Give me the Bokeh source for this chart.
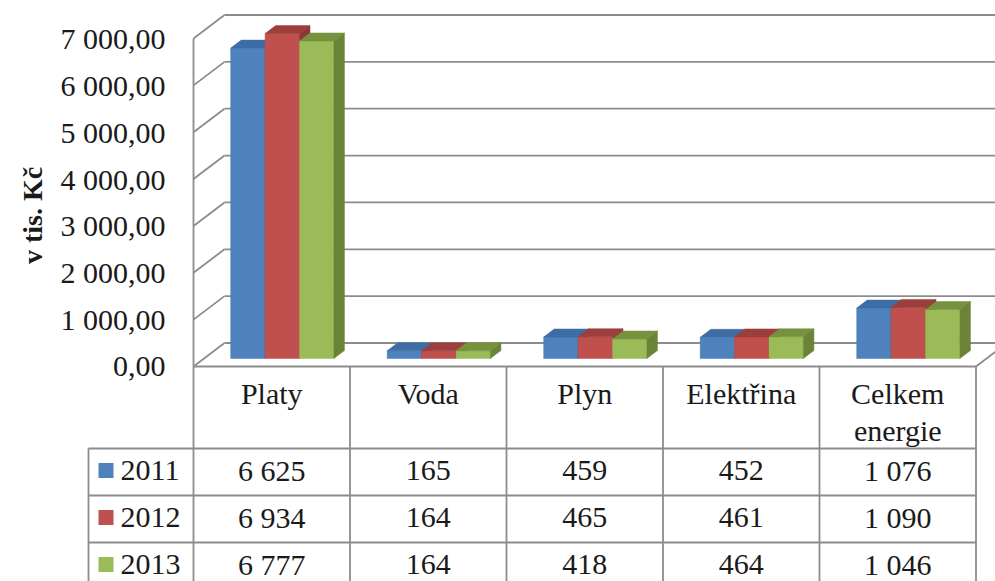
import math
from bokeh.plotting import figure
from bokeh.models import Range1d, ColumnDataSource, LabelSet, Label
from bokeh.core.properties import value
from bokeh.embed import file_html
from bokeh.resources import INLINE

# ---------------- data ----------------
categories = ["Platy", "Voda", "Plyn", "Elektřina", "Celkem energie"]
years = ["2011", "2012", "2013"]
values_2011 = [6625, 165, 459, 452, 1076]
values_2012 = [6934, 164, 465, 461, 1090]
values_2013 = [6777, 164, 418, 464, 1046]
y_ticks = [0, 1000, 2000, 3000, 4000, 5000, 6000, 7000]
axis_title = "v tis. Kč"

series = [values_2011, values_2012, values_2013]

# ---------------- style ----------------
front_colors = ["#4F81BD", "#C0504D", "#9BBB59"]
top_colors = ["#3E6CA4", "#9C3E3B", "#76923F"]
side_colors = ["#385F8E", "#8E3734", "#6A8437"]
GRID = "#8C8C8C"
TXT = "#1a1a1a"
FONT = "Liberation Serif"

W, H = 995, 581
ORIGIN_X = 193.0
ORIGIN_Y = 366.0
CAT_PX = 156.5
PX_PER_UNIT = 328.0 / 7000.0


def px_x(d):
    return d / CAT_PX


def px_y(d):
    return d / PX_PER_UNIT


N = len(categories)
DX, DY = px_x(31), px_y(23.5)
F1, F2 = 0.34, 0.68
BAR_W = px_x(34.4)

p = figure(width=W, height=H, output_backend="svg", toolbar_location=None,
           x_range=Range1d(-ORIGIN_X / CAT_PX, (W - ORIGIN_X) / CAT_PX),
           y_range=Range1d(-(H - ORIGIN_Y) / PX_PER_UNIT, ORIGIN_Y / PX_PER_UNIT),
           x_axis_location=None, y_axis_location=None, min_border=0)
p.outline_line_color = None
p.grid.visible = False

HEADER_H, ROW_H = px_y(82), px_y(47)
LEG_LEFT = -px_x(105)
row_bounds = [-HEADER_H - ROW_H * j for j in range(len(years) + 1)]
bottom = row_bounds[-1] - ROW_H

# ---- table texts first (text glyphs) ----
hx, hy, ht = [], [], []
for i, name in enumerate(categories):
    lines = name.split(" ") if len(name) > 10 else [name]
    for j, ln in enumerate(lines):
        hx.append(i + 0.5); hy.append(-px_y(27 + 37 * j)); ht.append(ln)
p.text(hx, hy, text=ht, text_font=value(FONT), text_font_size="30px",
       text_color=TXT, text_align="center", text_baseline="middle")

vx, vy, vt = [], [], []
lx, ly = [], []
for k, vals in enumerate(series):
    yc = row_bounds[k] - px_y(22)
    lx.append(-px_x(87.5)); ly.append(yc)
    for i, v in enumerate(vals):
        vx.append(i + 0.5); vy.append(yc); vt.append(f"{v:,}".replace(",", " "))
p.text(vx, vy, text=vt, text_font=value(FONT), text_font_size="30px",
       text_color=TXT, text_align="center", text_baseline="middle")
p.text([-px_x(73)] * len(years), ly, text=years, text_font=value(FONT),
       text_font_size="30px", text_color=TXT, text_baseline="middle")

xs, ys = [], []
x_far = N + DX + 0.5
for v in y_ticks:
    xs.append([DX, x_far]); ys.append([v + DY, v + DY])
    xs.append([0, DX]); ys.append([v, v + DY])
xs.append([0, 0]); ys.append([0, y_ticks[-1]])
xs.append([N, N + DX]); ys.append([0, DY])
p.multi_line(xs, ys, line_color=GRID, line_width=1.8)

pxs, pys, pcols = [], [], []
ddx, ddy = (F2 - F1) * DX, (F2 - F1) * DY
base = F1 * DY
for i in range(N):
    cx = i + 0.5 + F1 * DX
    for k, vals in enumerate(series):
        v = vals[i]
        x0 = cx + (k - 1.5) * BAR_W
        x1 = x0 + BAR_W
        y0, y1 = base, base + v
        pxs.append([x0, x1, x1, x0]); pys.append([y0, y0, y1, y1]); pcols.append(front_colors[k])
        pxs.append([x0, x1, x1 + ddx, x0 + ddx]); pys.append([y1, y1, y1 + ddy, y1 + ddy]); pcols.append(top_colors[k])
        pxs.append([x1, x1 + ddx, x1 + ddx, x1]); pys.append([y0, y0 + ddy, y1 + ddy, y1]); pcols.append(side_colors[k])
p.patches(pxs, pys, fill_color=pcols, line_color=pcols, line_width=0.5)

txs, tys = [], []
txs.append([0, N]); tys.append([0, 0])
for yb in row_bounds + [bottom]:
    txs.append([LEG_LEFT, N]); tys.append([yb, yb])
for i in range(N + 1):
    txs.append([i, i]); tys.append([0, bottom])
txs.append([LEG_LEFT, LEG_LEFT]); tys.append([row_bounds[0], bottom])
p.multi_line(txs, tys, line_color=GRID, line_width=1.8)
p.scatter(lx, ly, marker="square", size=15, fill_color=front_colors,
          line_color=None)

# ---- tick labels + title as annotations ----
tick_text = [f"{t:,.2f}".replace(",", " ").replace(".", ",") for t in y_ticks]
tick_src = ColumnDataSource(dict(x=[-px_x(28)] * len(y_ticks), y=y_ticks, t=tick_text))
p.add_layout(LabelSet(x="x", y="y", text="t", source=tick_src,
                      text_font=FONT, text_font_size="30px", text_color=TXT,
                      text_align="right", text_baseline="middle"))
p.add_layout(Label(x=-px_x(161), y=px_y(151), text=axis_title, angle=math.pi / 2,
                   text_font=FONT, text_font_size="28px", text_font_style="bold",
                   text_color=TXT, text_align="center", text_baseline="middle"))

open("out.html", "w").write(file_html(p, INLINE))
